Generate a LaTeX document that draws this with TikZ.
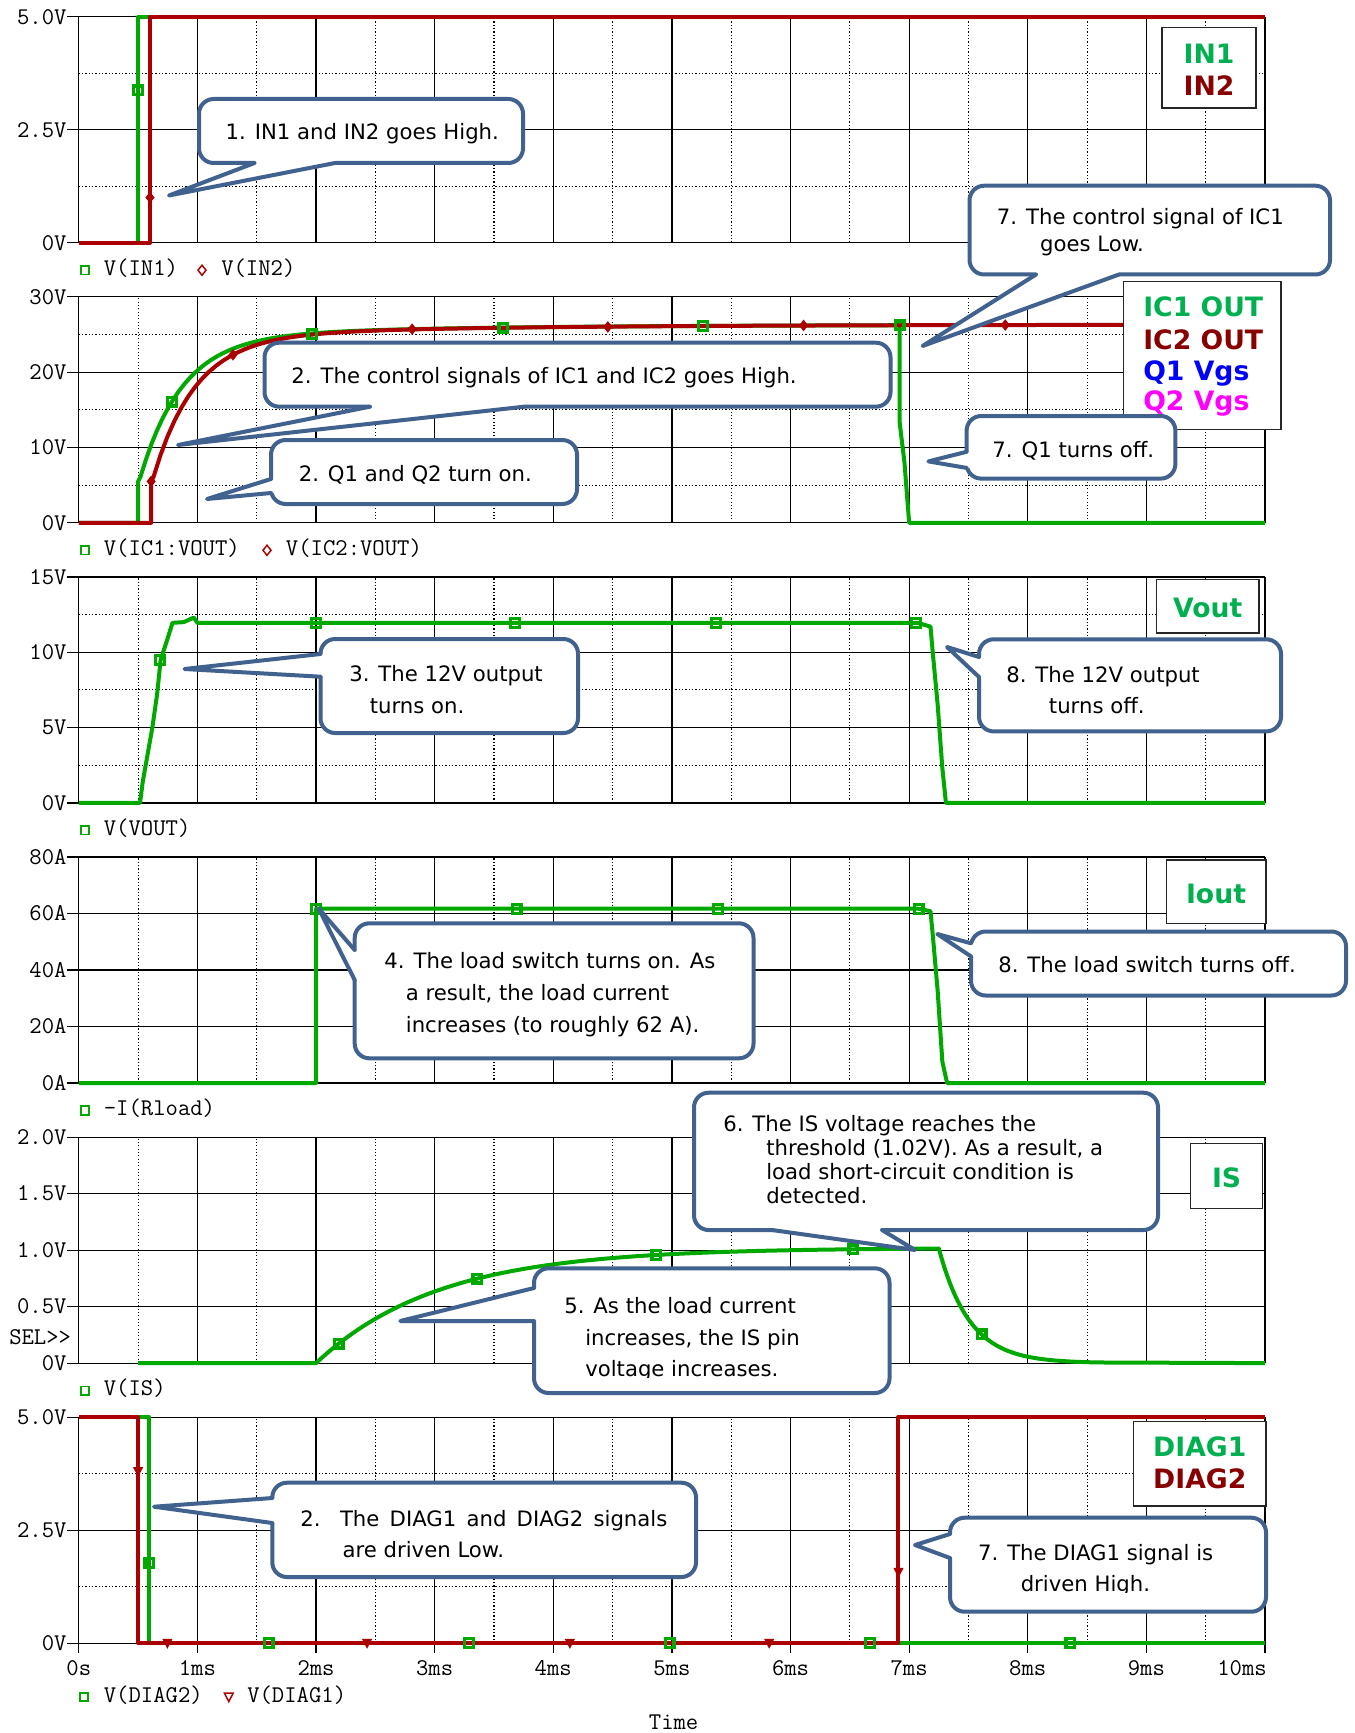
\documentclass[tikz,border=0pt]{standalone}
\usepackage{fontspec}
\newfontfamily\cfont{DejaVu Sans}
\usetikzlibrary{fit}
\definecolor{tg}{RGB}{0,168,0}
\definecolor{tr}{RGB}{170,0,0}
\definecolor{lgg}{RGB}{0,176,80}
\definecolor{lgr}{RGB}{136,0,0}
\definecolor{cb}{RGB}{65,98,142}
\definecolor{qb}{RGB}{0,0,255}
\definecolor{qm}{RGB}{255,0,255}
\tikzset{
 gsolid/.style={line width=0.9pt, black},
 gdot/.style={line width=0.8pt, black, dash pattern=on 0.9pt off 1.6pt},
 trg/.style={tg, line width=3pt, line join=round},
 trr/.style={tr, line width=3pt, line join=round},
 axl/.style={font=\ttfamily\fontsize{18pt}{20pt}\selectfont, inner sep=0pt},
 ctext/.style={font=\cfont\fontsize{15.9pt}{19pt}\selectfont, inner sep=0pt, anchor=base west},
 cbox/.style={draw=cb, fill=white, line width=3pt, rounded corners=11pt, inner sep=0pt},
 cwedge/.style={draw=cb, line width=3pt, line join=round, line cap=round},
 lbox/.style={draw=black!85, fill=white, line width=1.1pt, inner sep=0pt},
 ltext/.style={font=\cfont\bfseries\fontsize{20pt}{24pt}\selectfont, inner sep=0pt},
}
\newcommand\mkGsq[1]{\draw[tg, line width=2.4pt] (#1) ++(-3.3pt,-3.3pt) rectangle ++(6.6pt,6.6pt);}
\newcommand\mkRdia[1]{\fill[tr] (#1) ++(0,4.4pt) -- ++(3.4pt,-4.4pt) -- ++(-3.4pt,-4.4pt) -- ++(-3.4pt,4.4pt) -- cycle;}
\newcommand\mkRtri[1]{\fill[tr] (#1) ++(-3.8pt,3.2pt) -- ++(7.6pt,0) -- ++(-3.8pt,-7.4pt) -- cycle;}
\newcommand\lgSq[1]{\draw[tg, line width=1.2pt] (#1) ++(-3.2pt,-3.2pt) rectangle ++(6.4pt,6.4pt);}
\newcommand\lgDia[1]{\draw[tr, line width=1.1pt] (#1) ++(0,3.8pt) -- ++(3pt,-3.8pt) -- ++(-3pt,-3.8pt) -- ++(-3pt,3.8pt) -- cycle;}
\newcommand\lgTri[1]{\draw[tr, line width=1.1pt] (#1) ++(-3.3pt,3pt) -- ++(6.6pt,0) -- ++(-3.3pt,-6.5pt) -- cycle;}
% callout with pointer on bottom edge: name, L, T, R, B, base x1, base x2, tip
\newcommand\cbB[8]{%
 \node[cbox, fit={(#2,#3) (#4,#5)}] (#1) {};
 \coordinate (#1t) at (#8);
 \fill[white] (#6,#5-4) -- (#6,#5) -- (#1t) -- (#7,#5) -- (#7,#5-4) -- cycle;
 \draw[cwedge] (#6,#5) -- (#1t) -- (#7,#5);}
% callout with pointer on left edge: name, L, T, R, B, base y1, base y2, tip
\newcommand\cbL[8]{%
 \node[cbox, fit={(#2,#3) (#4,#5)}] (#1) {};
 \coordinate (#1t) at (#8);
 \fill[white] (#2+4,#6) -- (#2,#6) -- (#1t) -- (#2,#7) -- (#2+4,#7) -- cycle;
 \draw[cwedge] (#2,#6) -- (#1t) -- (#2,#7);}
\begin{document}
\begin{tikzpicture}[x=0.75pt, y=-0.75pt]
\useasboundingbox (0,0) rectangle (1354,1733);
\fill[white] (0,0) rectangle (1354,1733);

% ---------------- Panel 1: IN1 / IN2
\begin{scope}[shift={(59.1pt,-182.025pt)}, x=88.965pt, y=33.9pt]
 \foreach \t in {0.5,1.5,...,9.5} \draw[gdot] (\t,0) -- (\t,5);
 \foreach \v in {1.25,3.75} \draw[gdot] (0,\v) -- (10,\v);
 \foreach \t in {1,...,10} \draw[gsolid] (\t,0) -- (\t,5);
 \draw[gsolid] (0,0) -- (0,5);
 \foreach \v/\l [count=\k] in {0/0V,2.5/2.5V,5/5.0V}{
   \draw[gsolid] (0,\v) ++(-9pt,0) -- (10,\v);
   \node[axl, anchor=base east] (a1l\k) at ([shift={(-9pt,-5.5pt)}]0,\v) {\l};}
 \draw[trg] (0,0) -- (0.5,0) -- (0.5,5) -- (10,5);
 \draw[trr] (0,0) -- (0.6,0) -- (0.6,5) -- (10,5);
 \mkGsq{0.5,3.37}
 \mkRdia{0.6,1.0}
\end{scope}

% ---------------- Panel 2: IC1/IC2 VOUT
\begin{scope}[shift={(59.1pt,-392.1pt)}, x=88.965pt, y=5.65pt]
 \foreach \t in {0.5,1.5,...,9.5} \draw[gdot] (\t,0) -- (\t,30);
 \foreach \v in {5,15,25} \draw[gdot] (0,\v) -- (10,\v);
 \foreach \t in {1,...,10} \draw[gsolid] (\t,0) -- (\t,30);
 \draw[gsolid] (0,0) -- (0,30);
 \foreach \v/\l [count=\k] in {0/0V,10/10V,20/20V,30/30V}{
   \draw[gsolid] (0,\v) ++(-9pt,0) -- (10,\v);
   \node[axl, anchor=base east] (a2l\k) at ([shift={(-9pt,-5.5pt)}]0,\v) {\l};}
 \draw[trg] (0,0) -- (0.5,0) -- (0.5,5.5) -- plot[domain=0.52:6.92, samples=140] (\x,{5+19.5*(1-exp(-(\x-0.5)/0.35))+1.8*(1-exp(-(\x-0.5)/2))}) -- (6.92,13.3) -- (6.96,8.1) -- (7.0,0) -- (10,0);
 \draw[trr] (0,0) -- (0.61,0) -- (0.61,5.5) -- plot[domain=0.63:10, samples=160] (\x,{5+19.5*(1-exp(-(\x-0.61)/0.35))+1.8*(1-exp(-(\x-0.61)/2))});
 \mkGsq{0.786,16.1}
 \mkGsq{1.97,25.1}
 \mkGsq{3.58,25.9}
 \mkGsq{5.26,26.1}
 \mkGsq{6.92,26.2}
 \mkRdia{0.61,5.5}
 \mkRdia{1.3,22.3}
 \mkRdia{2.81,25.7}
 \mkRdia{4.46,26.0}
 \mkRdia{6.11,26.2}
 \mkRdia{7.81,26.25}
\end{scope}

% ---------------- Panel 3: VOUT
\begin{scope}[shift={(59.1pt,-602.175pt)}, x=88.965pt, y=11.3pt]
 \foreach \t in {0.5,1.5,...,9.5} \draw[gdot] (\t,0) -- (\t,15);
 \foreach \v in {2.5,7.5,12.5} \draw[gdot] (0,\v) -- (10,\v);
 \foreach \t in {1,...,10} \draw[gsolid] (\t,0) -- (\t,15);
 \draw[gsolid] (0,0) -- (0,15);
 \foreach \v/\l [count=\k] in {0/0V,5/5V,10/10V,15/15V}{
   \draw[gsolid] (0,\v) ++(-9pt,0) -- (10,\v);
   \node[axl, anchor=base east] (a3l\k) at ([shift={(-9pt,-5.5pt)}]0,\v) {\l};}
 \draw[trg] (0,0) -- (0.516,0) -- (0.539,1.4) -- (0.62,5) -- (0.66,7.2) -- (0.69,9.5) -- (0.74,10.7) -- (0.79,11.95) -- (0.885,12.0) -- (0.97,12.3) -- (1.0,11.95) -- (7.07,11.95) -- (7.18,11.7) -- (7.2,9.9) -- (7.24,6.55) -- (7.28,2.3) -- (7.31,0) -- (10,0);
 \mkGsq{0.686,9.5}
 \mkGsq{2.0,11.95}
 \mkGsq{3.675,11.95}
 \mkGsq{5.37,11.95}
 \mkGsq{7.06,11.95}
\end{scope}

% ---------------- Panel 4: Iout
\begin{scope}[shift={(59.1pt,-812.25pt)}, x=88.965pt, y=2.11875pt]
 \foreach \t in {0.5,1.5,...,9.5} \draw[gdot] (\t,0) -- (\t,80);
 \foreach \t in {1,...,10} \draw[gsolid] (\t,0) -- (\t,80);
 \draw[gsolid] (0,0) -- (0,80);
 \foreach \v/\l [count=\k] in {0/0A,20/20A,40/40A,60/60A,80/80A}{
   \draw[gsolid] (0,\v) ++(-9pt,0) -- (10,\v);
   \node[axl, anchor=base east] (a4l\k) at ([shift={(-9pt,-5.5pt)}]0,\v) {\l};}
 \draw[trg] (0,0) -- (2.0,0) -- (2.0,61.7) -- (7.08,61.7) -- (7.18,60.8) -- (7.2,52) -- (7.24,32.8) -- (7.28,7.5) -- (7.32,0) -- (10,0);
 \mkGsq{2.0,61.7}
 \mkGsq{3.69,61.7}
 \mkGsq{5.39,61.7}
 \mkGsq{7.08,61.7}
\end{scope}

% ---------------- Panel 5: IS
\begin{scope}[shift={(59.1pt,-1022.325pt)}, x=88.965pt, y=84.75pt]
 \foreach \t in {0.5,1.5,...,9.5} \draw[gdot] (\t,0) -- (\t,2);
 \foreach \t in {1,...,10} \draw[gsolid] (\t,0) -- (\t,2);
 \draw[gsolid] (0,0) -- (0,2);
 \foreach \v/\l [count=\k] in {0/0V,0.5/0.5V,1/1.0V,1.5/1.5V,2/2.0V}{
   \draw[gsolid] (0,\v) ++(-9pt,0) -- (10,\v);
   \node[axl, anchor=base east] (a5l\k) at ([shift={(-9pt,-5.5pt)}]0,\v) {\l};}
 \draw[trg] (0.5,0) -- (2,0) -- plot[domain=2:7.25, samples=120] (\x,{1.02*(1-exp(-(\x-2)/1.03))}) -- plot[domain=7.25:8.6, samples=60] (\x,{1.015*exp(-(\x-7.25)/0.26)}) -- (10,0);
 \mkGsq{2.19,0.172}
 \mkGsq{3.36,0.748}
 \mkGsq{4.87,0.957}
 \mkGsq{6.53,1.007}
 \mkGsq{7.61,0.254}
\end{scope}
\node[axl, anchor=base west] (sel) at (9,1344) {SEL>>};

% ---------------- Panel 6: DIAG
\begin{scope}[shift={(59.1pt,-1232.4pt)}, x=88.965pt, y=33.9pt]
 \foreach \t in {0.5,1.5,...,9.5} \draw[gdot] (\t,0) -- (\t,5);
 \foreach \v in {1.25,3.75} \draw[gdot] (0,\v) -- (10,\v);
 \foreach \t in {1,...,10} \draw[gsolid] (\t,0) -- (\t,5);
 \draw[gsolid] (0,0) -- (0,5);
 \foreach \v/\l [count=\k] in {0/0V,2.5/2.5V,5/5.0V}{
   \draw[gsolid] (0,\v) ++(-9pt,0) -- (10,\v);
   \node[axl, anchor=base east] (a6l\k) at ([shift={(-9pt,-5.5pt)}]0,\v) {\l};}
 \foreach \t in {0,...,10} \draw[gsolid] (\t,0) -- ++(0,-7.5pt);
 \foreach \t/\l [count=\k] in {0/0s,1/1ms,2/2ms,3/3ms,4/4ms,5/5ms,6/6ms,7/7ms,8/8ms,9/9ms}
   \node[axl, anchor=base] (xl\k) at ([yshift=-23.85pt]\t,0) {\l};
 \node[axl, anchor=base east] (xl10) at ([shift={(1.5pt,-23.85pt)}]10,0) {10ms};
 \draw[trg] (0,5) -- (0.595,5) -- (0.595,0) -- (10,0);
 \draw[trr] (0,5) -- (0.5,5) -- (0.5,0) -- (6.91,0) -- (6.91,5) -- (10,5);
 \mkGsq{0.595,1.78}
 \mkGsq{1.6,0}
 \mkGsq{3.29,0}
 \mkGsq{4.98,0}
 \mkGsq{6.67,0}
 \mkGsq{8.36,0}
 \mkRtri{0.5,3.8}
 \mkRtri{0.747,0}
 \mkRtri{2.43,0}
 \mkRtri{4.14,0}
 \mkRtri{5.82,0}
 \mkRtri{6.91,1.57}
\end{scope}
\node[axl, anchor=base] (timel) at (673.6,1729) {Time};

% ---------------- trace legends
\lgSq{85,270.2}
\node[axl, anchor=base west] (g1a) at (103.6,275.2) {V(IN1)};
\lgDia{202,270.2}
\node[axl, anchor=base west] (g1b) at (221,275.2) {V(IN2)};
\lgSq{85,550.3}
\node[axl, anchor=base west] (g2a) at (103.6,555.3) {V(IC1:VOUT)};
\lgDia{267,550.3}
\node[axl, anchor=base west] (g2b) at (285.7,555.3) {V(IC2:VOUT)};
\lgSq{85,830.4}
\node[axl, anchor=base west] (g3a) at (103.6,835.4) {V(VOUT)};
\lgSq{85,1110.5}
\node[axl, anchor=base west] (g4a) at (103.6,1115.5) {-I(Rload)};
\lgSq{85,1390.6}
\node[axl, anchor=base west] (g5a) at (103.6,1395.6) {V(IS)};
\lgSq{84,1697}
\node[axl, anchor=base west] (g6a) at (103.6,1702) {V(DIAG2)};
\lgTri{228.8,1697}
\node[axl, anchor=base west] (g6b) at (247,1702) {V(DIAG1)};

% ---------------- signal name boxes
\node[lbox, fit={(1162,27.5) (1256,108)}] (lb1) {};
\node[ltext, anchor=base, text=lgg] (lb1a) at (1209,63.6) {IN1};
\node[ltext, anchor=base, text=lgr] (lb1b) at (1209,95.7) {IN2};
\node[lbox, fit={(1123.5,281.5) (1281,429.3)}] (lb2) {};
\node[ltext, anchor=base west, text=lgg] (lb2a) at (1143,317) {IC1 OUT};
\node[ltext, anchor=base west, text=lgr] (lb2b) at (1143,349.3) {IC2 OUT};
\node[ltext, anchor=base west, text=qb] (lb2c) at (1143,380.4) {Q1 Vgs};
\node[ltext, anchor=base west, text=qm] (lb2d) at (1143,410.7) {Q2 Vgs};
\node[lbox, fit={(1156.5,579.6) (1259,633.2)}] (lb3) {};
\node[ltext, anchor=base, text=lgg] (lb3a) at (1207.8,617) {Vout};
\node[lbox, fit={(1166.4,860) (1266,923.6)}] (lb4) {};
\node[ltext, anchor=base, text=lgg] (lb4a) at (1216,903.6) {Iout};
\node[lbox, fit={(1190.7,1143.3) (1262.5,1208.3)}] (lb5) {};
\node[ltext, anchor=base, text=lgg] (lb5a) at (1226.6,1187.3) {IS};
\node[lbox, fit={(1133.6,1421.7) (1266,1506)}] (lb6) {};
\node[ltext, anchor=base, text=lgg] (lb6a) at (1199.8,1456.7) {DIAG1};
\node[ltext, anchor=base, text=lgr] (lb6b) at (1199.8,1488.3) {DIAG2};

% ---------------- callouts
\cbB{c1}{199}{99}{523}{163}{254.5}{335}{169,195.5}
\node[ctext] (c1a) at (225.4,140) {1. IN1 and IN2 goes High.};

\cbB{c7a}{969.5}{185.7}{1330}{274.5}{1036}{1119}{922.6,346}
\node[ctext] (c7aa) at (996.7,225) {7. The control signal of IC1};
\node[ctext] (c7ab) at (1039.8,251.8) {goes Low.};

\cbB{c2a}{264.5}{342.7}{890.5}{406.7}{370}{524}{178,445}
\node[ctext] (c2aa) at (291.2,383.3) {2. The control signals of IC1 and IC2 goes High.};

\cbL{c2b}{271}{440}{577}{504}{479}{493}{207,499}
\node[ctext] (c2ba) at (298.5,481.7) {2. Q1 and Q2 turn on.};

\cbL{c7b}{966.6}{416}{1175.4}{478.6}{451.8}{467.9}{928.4,461.4}
\node[ctext] (c7ba) at (992.2,457.9) {7. Q1 turns off.};

\cbL{c3}{320.5}{639}{578}{733}{654}{676.7}{184.5,669}
\node[ctext] (c3a) at (349,681.7) {3. The 12V output};
\node[ctext] (c3b) at (369.6,713.3) {turns on.};

\cbL{c8a}{979}{639.3}{1281}{731.4}{657}{677}{947,647}
\node[ctext] (c8aa) at (1006,682) {8. The 12V output};
\node[ctext] (c8ab) at (1048.7,713.6) {turns off.};

\cbL{c4}{354.7}{923.3}{753.5}{1058.3}{950}{980}{318.5,908.3}
\node[ctext] (c4a) at (384.2,968.3) {4. The load switch turns on. As};
\node[ctext] (c4b) at (405.6,1000) {a result, the load current};
\node[ctext] (c4c) at (405.6,1032.3) {increases (to roughly 62 A).};

\cbL{c8b}{971}{931.5}{1346}{995.5}{943.3}{956.4}{937.3,934}
\node[ctext] (c8ba) at (998,972.5) {8. The load switch turns off.};

\cbB{c6}{694}{1092.7}{1158}{1230}{772}{882}{915,1250}
\node[ctext] (c6a) at (723,1131) {6. The IS voltage reaches the};
\node[ctext] (c6b) at (766,1155) {threshold (1.02V). As a result, a};
\node[ctext] (c6c) at (766,1179) {load short-circuit condition is};
\node[ctext] (c6d) at (766,1203) {detected.};

\cbL{c5}{534}{1268.3}{889.5}{1393}{1288}{1321}{400.3,1321}
\node[ctext] (c5a) at (564,1313.3) {5. As the load current};
\node[ctext] (c5b) at (585,1345) {increases, the IS pin};
\begin{scope}
 \clip (540,1350) rectangle (885,1377);
 \node[ctext] (c5c) at (585,1376.5) {voltage increases.};
\end{scope}

\cbL{cd2}{272.3}{1482.7}{696}{1577}{1498}{1523}{154,1506.7}
\node[ctext] (cd2a) at (300,1526) {\makebox[275.3pt][s]{2. The DIAG1 and DIAG2 signals}};
\node[ctext] (cd2b) at (342.4,1557.7) {are driven Low.};

\cbL{cd7}{950}{1517.7}{1266}{1611.7}{1534}{1558}{915,1545}
\node[ctext] (cd7a) at (977.8,1560.7) {7. The DIAG1 signal is};
\begin{scope}
 \clip (955,1565) rectangle (1260,1592.5);
 \node[ctext] (cd7b) at (1020.5,1591.7) {driven High.};
\end{scope}
\end{tikzpicture}
\end{document}
